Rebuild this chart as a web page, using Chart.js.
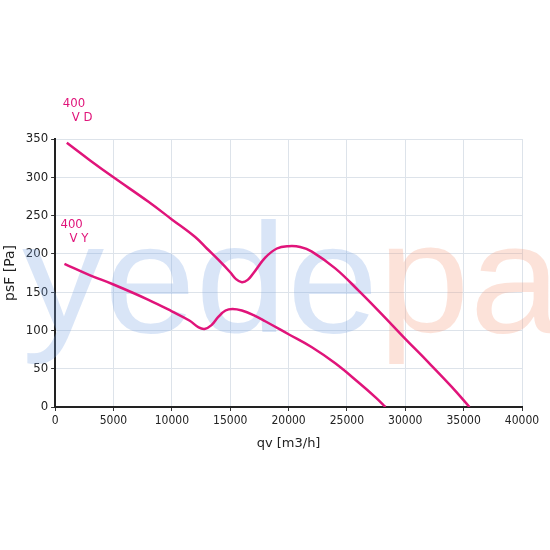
<!DOCTYPE html>
<html><head><meta charset="utf-8">
<script src="https://cdn.jsdelivr.net/npm/chart.js@4"></script>
<style>html,body{margin:0;background:#fff}#w{width:550px;height:550px}</style>
</head><body><div id="w"><canvas id="c"></canvas></div>
<script>
const vdX=[1000,3000,5000,8000,10000,12000,13000,14000,15000,15500,16000,16500,17000,18000,19000,20000,21000,22000,24000,26000,28000,30000,32000,34000,35500];
const vdY=[345,322,300,268,245,222,207,192,176,167,163,166,175,195,207,210,209,203,181,152,121,89,58,26,0];
const vyX=[800,3000,5000,8000,10000,11500,12300,12800,13400,14000,14600,15200,16000,17000,18000,20000,22000,24000,26000,27500,28300];
const vyY=[187,172,160,140,125,113,104,102,107,118,126,128,126,120,112,95,78,57,32,12,0];
const xTicks=[0,5000,10000,15000,20000,25000,30000,35000,40000];
const yTicks=[0,50,100,150,200,250,300,350];
const labels=[{x:1000,y:345,t:['400','V D']},{x:800,y:187,t:['400','V Y']}];
const mag='#e0147a';
const toPts=(xs,ys)=>xs.map((x,i)=>({x,y:ys[i]}));
const plug={id:'deco',
beforeDatasetsDraw(ch){const c=ch.ctx;c.save();c.font='155px "Liberation Sans"';c.textBaseline='alphabetic';
c.translate(22,332);c.scale(1.06,1);
c.fillStyle='rgba(120,160,225,0.28)';c.fillText('yede',0,0);const w=c.measureText('yede').width;
c.fillStyle='rgba(245,150,120,0.28)';c.fillText('pa',w,0);c.restore();},
afterDraw(ch){const c=ch.ctx,xs=ch.scales.x,ys=ch.scales.y;c.save();c.fillStyle=mag;c.font='13px "Liberation Sans Narrow", "DejaVu Sans Condensed"';c.textAlign='left';
labels.forEach(l=>{const px=xs.getPixelForValue(l.x),py=ys.getPixelForValue(l.y);c.fillText(l.t[0],px-4,py-36);c.fillText(l.t[1],px+5,py-22);});c.restore();}};
new Chart(document.getElementById('c'),{type:'line',
data:{datasets:[{data:toPts(vdX,vdY)},{data:toPts(vyX,vyY)}].map(d=>Object.assign(d,{borderColor:mag,borderWidth:2.5,pointRadius:0,tension:0.4,fill:false}))},
options:{responsive:true,maintainAspectRatio:false,animation:false,
layout:{padding:{left:-2,right:28,top:139,bottom:95}},
plugins:{legend:{display:false},tooltip:{enabled:false}},
scales:{
x:{type:'linear',min:0,max:40000,afterBuildTicks:s=>{s.ticks=xTicks.map(v=>({value:v}))},
ticks:{color:'#222',callback:v=>String(v),font:{size:12,family:'"Liberation Sans Narrow", "DejaVu Sans Condensed"'},maxRotation:0},
grid:{color:'#dde3ea',tickColor:'#333',tickLength:4},border:{color:'#222',width:2},
title:{display:true,text:'qv [m3/h]',color:'#222',font:{size:13,family:'"DejaVu Sans"'}}},
y:{type:'linear',min:0,max:350,afterBuildTicks:s=>{s.ticks=yTicks.map(v=>({value:v}))},
ticks:{color:'#222',callback:v=>String(v),font:{size:13,family:'"Liberation Sans Narrow", "DejaVu Sans Condensed"'}},
grid:{color:'#dde3ea',tickColor:'#333',tickLength:4},border:{color:'#222',width:2},
title:{display:true,text:'psF [Pa]',color:'#222',font:{size:14,family:'"DejaVu Sans"'}}}}},
plugins:[plug]});
</script></body></html>
